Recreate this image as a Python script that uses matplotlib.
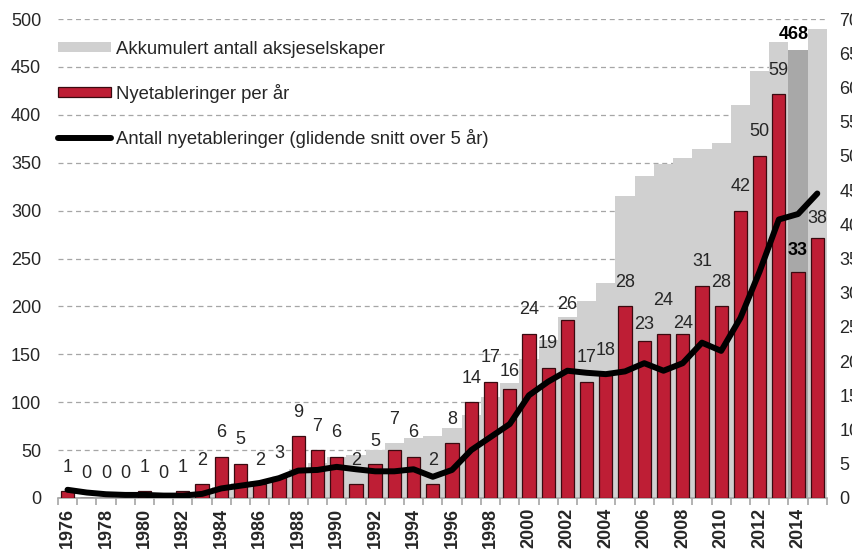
import numpy as np
import matplotlib.pyplot as plt
from matplotlib.patches import Patch
from matplotlib.lines import Line2D

plt.rcParams['font.family'] = ['Liberation Sans', 'DejaVu Sans']

# data
years = np.arange(1976, 2016)
new_per_year = [1, 0, 0, 0, 1, 0, 1, 2, 6, 5, 2, 3, 9, 7, 6, 2, 5, 7, 6, 2,
                8, 14, 17, 16, 24, 19, 26, 17, 18, 28, 23, 24, 24, 31, 28, 42, 50, 59, 33, 38]
accumulated = [1, 1, 1, 1, 2, 2, 3, 5, 11, 16, 18, 21, 30, 37, 43, 45, 50, 57, 63, 65,
               73, 87, 105, 120, 145, 165, 189, 206, 224, 315, 336, 349, 355, 364, 371,
               410, 446, 476, 468, 490]
moving_avg = [1.2, 0.8, 0.55, 0.45, 0.45, 0.35, 0.35, 0.6, 1.4, 1.8,
              2.2, 2.9, 4.0, 4.1, 4.55, 4.2, 3.9, 3.9, 4.2, 3.1,
              4.1, 7.0, 8.9, 10.8, 15.0, 17.0, 18.6, 18.3, 18.1, 18.5,
              19.7, 18.6, 19.7, 22.7, 21.5, 26.3, 33.1, 40.7, 41.5, 44.5]
highlight_year = 2014

legend_labels = ['Akkumulert antall aksjeselskaper',
                 'Nyetableringer per år',
                 'Antall nyetableringer (glidende snitt over 5 år)']

RED = '#be1e35'
GRAY = '#d0d0d0'
DARKGRAY = '#a8a8a8'
TXT = '#262626'
FS = 13

# label offsets above bar top, pixels (default 24)
label_off = {1992: 22, 1993: 31, 1999: 17, 2002: 16, 2006: 16, 2007: 33,
             2008: 10, 2014: 22, 2015: 19}

fig = plt.figure(figsize=(8.53, 5.51), dpi=100)
ax = fig.add_axes([57.9 / 853, 53 / 551, 769 / 853, 479 / 551])
ax.set_xlim(1975.5, 2015.5)
ax.set_ylim(0, 500)

# accumulated stock as a step area on the left axis
ax.stairs(accumulated, np.arange(1975.5, 2016.5), fill=True, color=GRAY, lw=0, zorder=2)
hi = list(years).index(highlight_year)
ax.bar(highlight_year, accumulated[hi], width=1.0, color=DARKGRAY, lw=0, zorder=2.5)
ax.annotate(str(accumulated[hi]), (highlight_year, accumulated[hi]), xytext=(-3, 11),
            textcoords='offset points', ha='center', va='center',
            fontsize=FS, fontweight='bold', color='black', zorder=5)

ax.set_yticks(np.arange(0, 501, 50))
ax.yaxis.grid(True, ls=(0, (4, 3)), color='#a6a6a6', lw=0.9)
ax.set_axisbelow(True)
for s in ['left', 'right', 'top']:
    ax.spines[s].set_visible(False)
ax.spines['bottom'].set_color('#a6a6a6')
ax.spines['bottom'].set_linewidth(1.2)
ax.tick_params(axis='y', length=0, pad=12, labelsize=FS, labelcolor=TXT)

ax.set_xticks(years[::2])
ax.set_xticklabels([str(y) for y in years[::2]], rotation=90, fontweight='bold',
                   fontsize=FS, color=TXT)
ax.set_xticks(np.arange(1975.5, 2016, 1), minor=True)
ax.tick_params(axis='x', which='major', length=0, pad=7)
ax.tick_params(axis='x', which='minor', length=5, color='#a6a6a6', width=1.2)

# yearly new establishments and moving average on the right axis
ax2 = ax.twinx()
ax2.set_ylim(0, 70)
ax2.set_yticks(np.arange(0, 71, 5))
for s in ['left', 'right', 'top', 'bottom']:
    ax2.spines[s].set_visible(False)
ax2.tick_params(axis='y', length=0, pad=9, labelsize=FS, labelcolor=TXT)

ax2.bar(years, new_per_year, width=0.69, color=RED, edgecolor='#3a0a10', lw=0.9, zorder=3)
ax2.plot(years, moving_avg, color='black', lw=4.3, solid_capstyle='round',
         solid_joinstyle='round', zorder=4)

for y, v in zip(years, new_per_year):
    off = label_off.get(y, 24) * 0.72
    bold = y == highlight_year
    ax2.annotate(str(v), (y, v), xytext=(0, off), textcoords='offset points',
                 ha='center', va='center', fontsize=FS, color='black' if bold else TXT,
                 fontweight='bold' if bold else 'normal', zorder=5)

handles = [Patch(facecolor=GRAY, edgecolor='none'),
           Patch(facecolor=RED, edgecolor='#3a0a10', lw=0.9),
           Line2D([], [], color='black', lw=4.3, solid_capstyle='round')]
ax2.legend(handles, legend_labels, loc='upper left', bbox_to_anchor=(0, 0.955),
           frameon=False, fontsize=13.3, handlelength=2.85, handleheight=0.45,
           handletextpad=0.28, labelspacing=1.42, borderaxespad=0, borderpad=0,
           labelcolor=TXT)

fig.savefig('out.png', dpi=100)
